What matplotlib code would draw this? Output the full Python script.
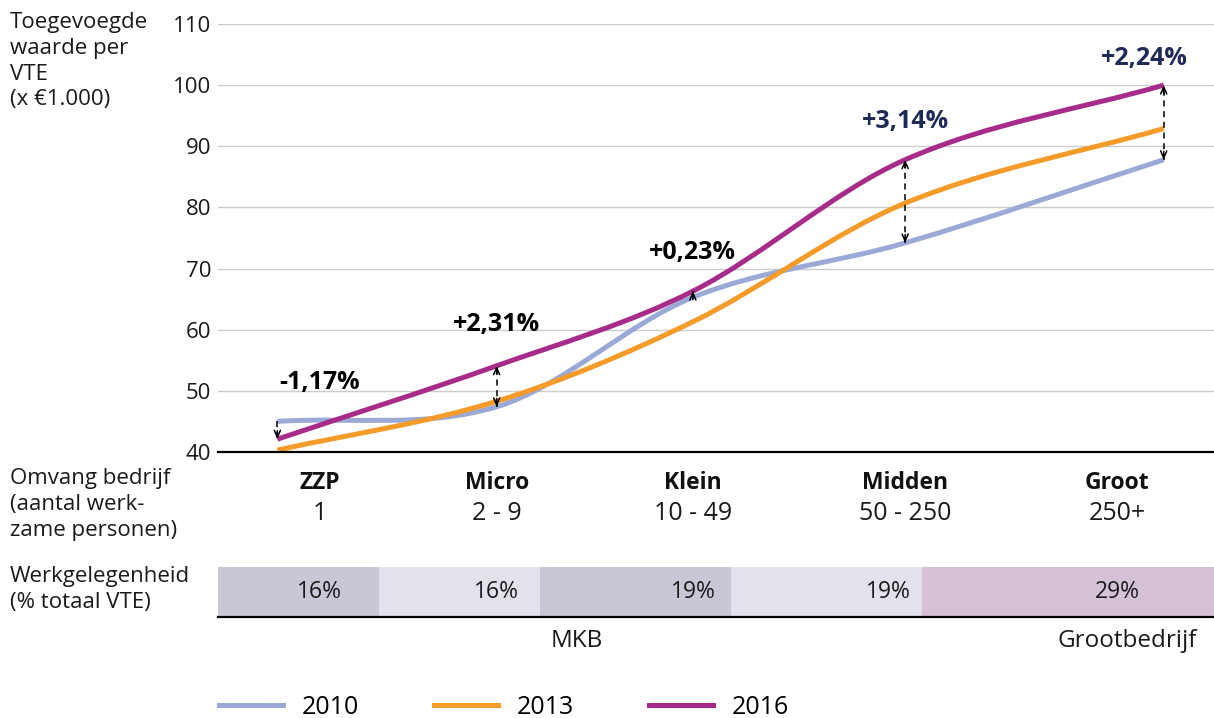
import numpy as np
import matplotlib
matplotlib.use("Agg")
import matplotlib.pyplot as plt
from matplotlib.path import Path
from matplotlib.patches import PathPatch
from matplotlib.lines import Line2D
from matplotlib.transforms import blended_transform_factory

plt.rcParams['font.family'] = ['Open Sans', 'DejaVu Sans']

# data
jaren = ['2010', '2013', '2016']
categorieen = ['ZZP', 'Micro', 'Klein', 'Midden', 'Groot']
personen = ['1', '2 - 9', '10 - 49', '50 - 250', '250+']
werkgelegenheid = [16, 16, 19, 19, 29]   # % totaal VTE
# x = plaats op de as van cumulatieve werkgelegenheid (0-99)
x_punten = [5.9, 27.7, 47.2, 68.3, 94.0]
waarde_2010 = [45.0, 47.4, 65.3, 74.2, 87.8]
waarde_2013 = [40.3, 48.3, 61.3, 80.7, 92.9]
waarde_2016 = [42.1, 54.1, 66.3, 87.8, 100.0]
groei = ['-1,17%', '+2,31%', '+0,23%', '+3,14%', '+2,24%']
yticks = [40, 50, 60, 70, 80, 90, 100, 110]

# opmaak
kleuren = {'2010': '#9ba9d6', '2013': '#f59b2a', '2016': '#a72b88'}
groei_kleur = ['black', 'black', 'black', '#1f2a55', '#1f2a55']
pijl_beide = [False, True, False, True, True]
label_x = [10.1, 27.7, 47.2, 68.3, 89.4]
pct_x = [10.1, 27.7, 47.2, 66.6, 89.4]
groei_x = [10.1, 27.7, 47.2, 68.3, 92.1]
groei_y = [51.4, 60.8, 72.7, 94.0, 104.4]
cel_kleuren = ['#c9c7d6', '#e3e2ec', '#c9c7d6', '#e3e2ec', '#d6c2d6']
FS = 16
TXT = '#1a1a1a'

W, H = 1214, 718
fig = plt.figure(figsize=(W / 100, H / 100), dpi=100)


def fx(px):
    return px / W


def fy(py):
    return 1 - py / H


ax = fig.add_axes([fx(218), fy(452), fx(996), fy(24) - fy(452)])
ax.set_xlim(0, 99)
ax.set_ylim(40, 110)


def glad_pad(xs, ys):
    # kromme door de punten (Catmull-Rom als Bezier)
    xs = np.asarray(xs, float)
    ys = np.asarray(ys, float)
    n = len(xs)
    m = np.zeros(n)
    for i in range(n):
        if i == 0:
            m[i] = (ys[1] - ys[0]) / (xs[1] - xs[0])
        elif i == n - 1:
            m[i] = (ys[-1] - ys[-2]) / (xs[-1] - xs[-2])
        else:
            m[i] = (ys[i + 1] - ys[i - 1]) / (xs[i + 1] - xs[i - 1])
    verts = [(xs[0], ys[0])]
    codes = [Path.MOVETO]
    for i in range(n - 1):
        dx = xs[i + 1] - xs[i]
        verts += [(xs[i] + dx / 3, ys[i] + m[i] * dx / 3),
                  (xs[i + 1] - dx / 3, ys[i + 1] - m[i + 1] * dx / 3),
                  (xs[i + 1], ys[i + 1])]
        codes += [Path.CURVE4] * 3
    return Path(verts, codes)


for y in yticks[1:]:
    ax.axhline(y, color='#cccccc', lw=1, zorder=0)

reeksen = {'2010': waarde_2010, '2013': waarde_2013, '2016': waarde_2016}
for jaar in jaren:
    ax.add_patch(PathPatch(glad_pad(x_punten, reeksen[jaar]), fill=False,
                           edgecolor=kleuren[jaar], lw=3.6, capstyle='butt',
                           zorder=2))

# pijlen tussen 2010 en 2016
for i, x in enumerate(x_punten):
    a, b = waarde_2010[i], waarde_2016[i]
    ax.plot([x, x], [a, b], color='black', lw=1.1, ls=(0, (4, 3)), zorder=3)
    richting = 1 if b > a else -1
    ax.annotate('', xy=(x, b), xytext=(0, -6 * richting), textcoords='offset points',
                arrowprops=dict(arrowstyle='->,head_length=0.5,head_width=0.22',
                                lw=1.1, color='black', shrinkA=0, shrinkB=0),
                zorder=4)
    if pijl_beide[i]:
        ax.annotate('', xy=(x, a), xytext=(0, 6 * richting), textcoords='offset points',
                    arrowprops=dict(arrowstyle='->,head_length=0.5,head_width=0.22',
                                    lw=1.1, color='black', shrinkA=0, shrinkB=0),
                    zorder=4)
    ax.text(groei_x[i], groei_y[i], groei[i], ha='center', va='center',
            fontsize=18, fontweight='bold', color=groei_kleur[i])

for s in ['left', 'right', 'top']:
    ax.spines[s].set_visible(False)
ax.spines['bottom'].set_linewidth(1.6)
ax.spines['bottom'].set_color('black')
ax.set_xticks([])
ax.set_yticks(yticks)
ax.set_yticklabels([str(v) for v in yticks], fontsize=FS, color=TXT)
ax.tick_params(axis='y', length=0, pad=5)

# categorieen onder de as
tr = blended_transform_factory(ax.transData, fig.transFigure)
for i in range(len(categorieen)):
    fig.text(label_x[i], fy(483), categorieen[i], transform=tr, ha='center',
             va='center', fontsize=16.5, fontweight='bold', color='#111111')
    fig.text(label_x[i], fy(513), personen[i], transform=tr, ha='center',
             va='center', fontsize=18, color=TXT)

# werkgelegenheid balk
ax2 = fig.add_axes([fx(218), fy(617), fx(996), fy(567) - fy(617)])
ax2.set_xlim(0, 99)
ax2.set_ylim(0, 1)
starts = np.concatenate([[0], np.cumsum(werkgelegenheid)[:-1]])
ax2.barh(0.5, werkgelegenheid, left=starts, height=1, color=cel_kleuren,
         edgecolor='none')
for i, p in enumerate(werkgelegenheid):
    ax2.text(pct_x[i], 0.5, f'{p}%', ha='center', va='center', fontsize=16.5,
             color=TXT)
for s in ['left', 'right', 'top']:
    ax2.spines[s].set_visible(False)
ax2.spines['bottom'].set_linewidth(1.6)
ax2.set_xticks([])
ax2.set_yticks([])

fig.text(35.7, fy(641), 'MKB', transform=tr, ha='center', va='center',
         fontsize=17.5, color=TXT)
fig.text(97.3, fy(641), 'Grootbedrijf', transform=tr, ha='right', va='center',
         fontsize=17.5, color=TXT)

# linker teksten
fig.text(fx(10), fy(12), 'Toegevoegde\nwaarde per\nVTE\n(x €1.000)', ha='left',
         va='top', fontsize=FS, color=TXT, linespacing=1.3)
fig.text(fx(10), fy(468), 'Omvang bedrijf\n(aantal werk-\nzame personen)',
         ha='left', va='top', fontsize=FS, color=TXT, linespacing=1.3)
fig.text(fx(10), fy(566), 'Werkgelegenheid\n(% totaal VTE)', ha='left',
         va='top', fontsize=FS, color=TXT, linespacing=1.3)

handles = [Line2D([], [], color=kleuren[j], lw=3.6) for j in jaren]
fig.legend(handles, jaren, loc='center left', bbox_to_anchor=(fx(219), fy(707)),
           ncol=3, frameon=False, fontsize=18, handlelength=2.56,
           handletextpad=0.76, columnspacing=2.98, borderpad=0, borderaxespad=0)

fig.savefig('out.png', dpi=100)
